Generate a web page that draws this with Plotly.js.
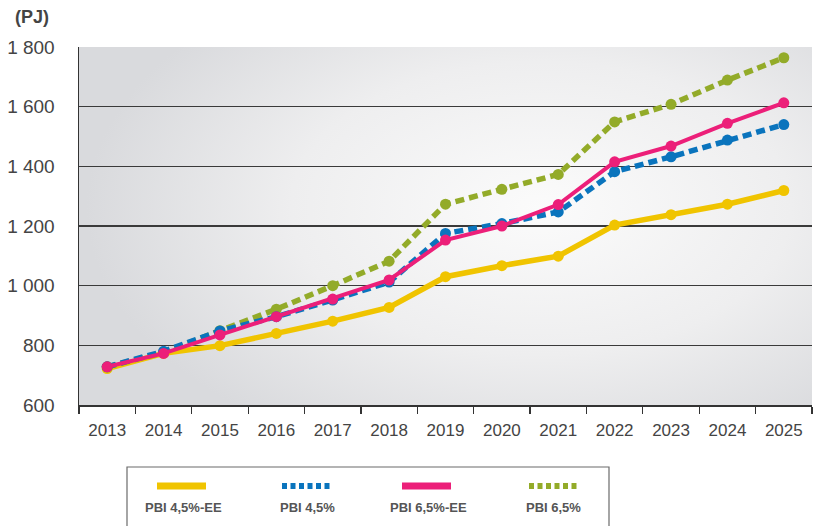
<!DOCTYPE html>
<html>
<head>
<meta charset="utf-8">
<script src="https://cdn.plot.ly/plotly-3.0.1.min.js"></script>
<style>
html,body{margin:0;padding:0;background:#fff;}
#chart{width:814px;height:526px;}
</style>
</head>
<body>
<div id="chart"></div>
<script>
const years = ['2013','2014','2015','2016','2017','2018','2019','2020','2021','2022','2023','2024','2025'];
const pbi45EE = [722, 773, 799, 840, 881, 927, 1030, 1067, 1099, 1203, 1238, 1273, 1319];
const pbi45   = [728, 780, 848, 896, 952, 1012, 1175, 1208, 1247, 1382, 1432, 1488, 1540];
const pbi65EE = [728, 773, 835, 896, 955, 1019, 1153, 1200, 1272, 1415, 1468, 1544, 1613];
const pbi65   = [728, 776, 849, 921, 1000, 1082, 1273, 1323, 1373, 1549, 1608, 1689, 1764];
const seriesNames = ['PBI 4,5%-EE', 'PBI 4,5%', 'PBI 6,5%-EE', 'PBI 6,5%'];
const yTicks = [600, 800, 1000, 1200, 1400, 1600, 1800];
const yTickText = ['600', '800', '1 000', '1 200', '1 400', '1 600', '1 800'];
const unitLabel = '(PJ)';

const C_Y = '#f0c400', C_B = '#0a74bd', C_P = '#ec1f79', C_G = '#93ab29';

function tr(y, name, color, width, dash, msize) {
  return {
    x: years, y: y, name: name, type: 'scatter', mode: 'lines+markers',
    line: {color: color, width: width, dash: dash},
    marker: {color: color, size: msize},
    showlegend: false, hoverinfo: 'skip'
  };
}

const data = [
  tr(pbi45EE, seriesNames[0], C_Y, 5.5, 'solid', 11),
  tr(pbi65, seriesNames[3], C_G, 5.5, '9px,5px', 11),
  tr(pbi45, seriesNames[1], C_B, 5.5, '9px,5px', 11),
  tr(pbi65EE, seriesNames[2], C_P, 4, 'solid', 11)
];

const gradSvg = '<svg xmlns="http://www.w3.org/2000/svg" width="200" height="100" preserveAspectRatio="none">' +
  '<defs><radialGradient id="g" cx="0.63" cy="0.45" r="0.62" gradientTransform="translate(0.63,0.45) scale(1,1.2) translate(-0.63,-0.45)">' +
  '<stop offset="0" stop-color="#fbfbfb"/><stop offset="0.55" stop-color="#eeeeef"/><stop offset="1" stop-color="#d9dadd"/></radialGradient></defs>' +
  '<rect width="200" height="100" fill="url(#g)"/></svg>';
const gradUri = 'data:image/svg+xml;base64,' + btoa(gradSvg);

// legend built from series names
const legX = [78, 203, 323, 450];
const legColors = [C_Y, C_B, C_P, C_G];
const legDash = ['solid', 'dot', 'solid', 'dot'];
const legLabelX = [104, 228, 349, 474];
const shapes = [{
  type: 'rect', xref: 'paper', yref: 'paper', xsizemode: 'pixel', ysizemode: 'pixel',
  xanchor: 0, yanchor: 0, x0: 48, x1: 530, y0: -62, y1: -130,
  line: {color: '#6b6b6b', width: 1.2}, fillcolor: '#ffffff', layer: 'above'
}];
const annotations = [{
  text: '<b>' + unitLabel + '</b>', xref: 'paper', yref: 'paper', x: 0, y: 1,
  xanchor: 'left', yanchor: 'middle', xshift: -66, yshift: 30, showarrow: false,
  font: {family: 'Liberation Sans, Arial, sans-serif', size: 18, color: '#444'}
}];
seriesNames.forEach((n, i) => {
  const isDot = legDash[i] === 'dot';
  shapes.push({
    type: 'line', xref: 'paper', yref: 'paper', xsizemode: 'pixel', ysizemode: 'pixel',
    xanchor: 0, yanchor: 0, x0: legX[i], x1: legX[i] + 49, y0: -81, y1: -81,
    line: {color: legColors[i], width: isDot ? 6 : 7, dash: isDot ? '5px,3.5px' : 'solid'}, layer: 'above'
  });
  annotations.push({
    text: '<b>' + n + '</b>', xref: 'paper', yref: 'paper', x: 0, y: 0,
    xanchor: 'center', yanchor: 'middle', xshift: legLabelX[i], yshift: -102, showarrow: false,
    font: {family: 'Liberation Sans Narrow, Arial Narrow, Liberation Sans, sans-serif', size: 13, color: '#555'}
  });
});

const layout = {
  width: 814, height: 526,
  margin: {l: 79, r: 2, t: 47, b: 121},
  paper_bgcolor: '#ffffff',
  plot_bgcolor: 'rgba(0,0,0,0)',
  font: {family: 'Liberation Sans, Arial, sans-serif', color: '#444'},
  showlegend: false,
  images: [{source: gradUri, xref: 'paper', yref: 'paper', x: 0, y: 1, sizex: 1, sizey: 1,
            sizing: 'stretch', layer: 'below', xanchor: 'left', yanchor: 'top'}],
  xaxis: {
    type: 'category', tickson: 'boundaries', ticks: 'outside', ticklen: 7, tickwidth: 1.2,
    tickcolor: '#333', showline: true, linecolor: '#333', linewidth: 1.5, showgrid: false,
    tickfont: {size: 17, color: '#444'}, ticklabelstandoff: 9, zeroline: false,
    range: [-0.5, 12.5]
  },
  yaxis: {
    range: [600, 1800], tickvals: yTicks, ticktext: yTickText, showline: true, linecolor: '#333',
    linewidth: 1.5, showgrid: true, gridcolor: '#3a3a3a', gridwidth: 1.2, zeroline: false,
    ticks: '', tickfont: {size: 19, color: '#444'}, ticklabelstandoff: 19
  },
  shapes: shapes,
  annotations: annotations
};

Plotly.newPlot('chart', data, layout, {displayModeBar: false, staticPlot: true});
</script>
</body>
</html>
